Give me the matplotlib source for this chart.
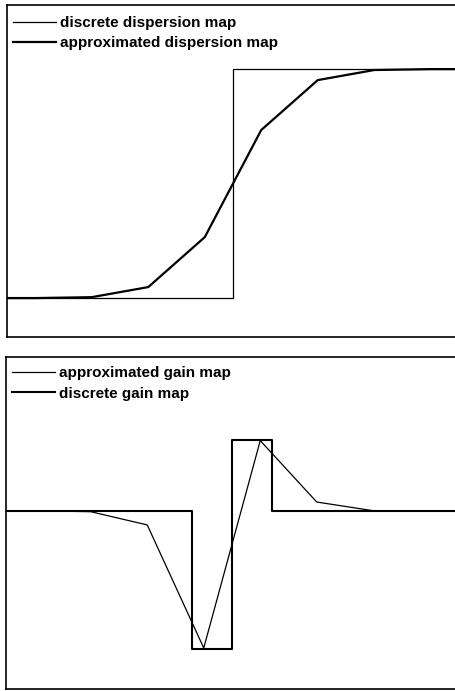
import matplotlib.pyplot as plt

plt.rcParams['font.family'] = ['Liberation Sans', 'DejaVu Sans']

# dispersion map (top panel)
disp_edges = [0, 4, 8]
disp_discrete = [0, 1, 1]
disp_x = [0, 0.5, 1.5, 2.5, 3.5, 4.5, 5.5, 6.5, 7.5, 8]
disp_approx = [0, 0, 0.004, 0.048, 0.266, 0.734, 0.952, 0.996, 1.0, 1.0]

# gain map (bottom panel)
gain_edges = [0, 3.3, 4, 4.7, 8]
gain_discrete = [0, -1, 0.51, 0, 0]
gain_x = [0.5, 1.5, 2.5, 3.5, 4.5, 5.5, 6.5, 7.5]
gain_approx = [0, -0.007, -0.103, -0.995, 0.508, 0.063, 0.0, 0.0]

fig = plt.figure(figsize=(4.55, 6.91), dpi=100)

W = 452 / 455   # axes run a bit past the right edge of the figure
ax1 = fig.add_axes([7 / 455, 354 / 691, W, 332 / 691])
ax2 = fig.add_axes([6 / 455, 2 / 691, W, 332 / 691])


def style(ax):
    ax.set_xticks([])
    ax.set_yticks([])
    for s in ax.spines.values():
        s.set_linewidth(1.2)
    ax.set_xlim(0, 8)


legend_kw = dict(loc='upper left', frameon=False, handlelength=2.8,
                 handletextpad=0.3, labelspacing=0.4, borderaxespad=0.2,
                 borderpad=0.2, prop={'size': 11, 'weight': 'bold'})

style(ax1)
ax1.step(disp_edges, disp_discrete, where='post', color='black', lw=0.9,
         label='discrete dispersion map')
ax1.plot(disp_x, disp_approx, color='black', lw=1.6,
         label='approximated dispersion map')
ax1.set_ylim(-0.17, 1.28)
ax1.legend(bbox_to_anchor=(0.0, 0.985), **legend_kw)

style(ax2)
ax2.plot(gain_x, gain_approx, color='black', lw=0.9,
         label='approximated gain map')
ax2.step(gain_edges, gain_discrete, where='post', color='black', lw=1.5,
         label='discrete gain map')
ax2.set_ylim(-1.292, 1.114)
ax2.legend(bbox_to_anchor=(0.0, 0.99), **legend_kw)

fig.savefig('out.png', dpi=100)
